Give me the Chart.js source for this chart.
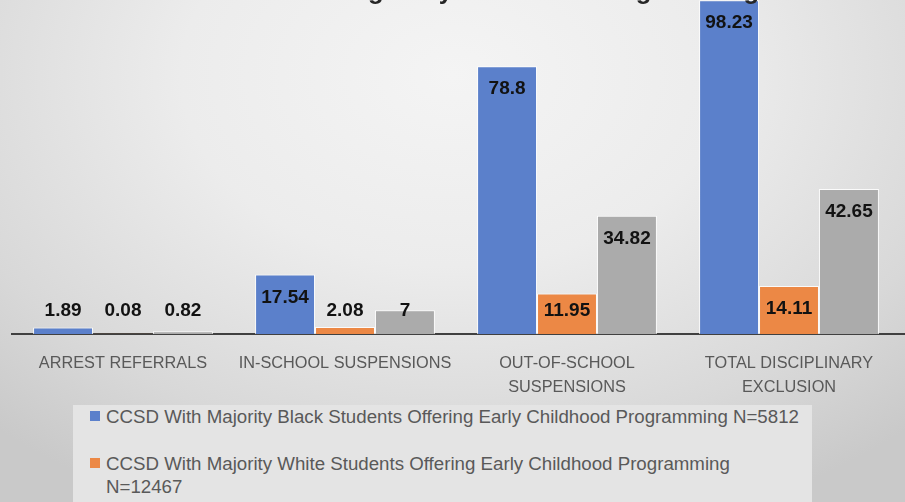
<!DOCTYPE html>
<html>
<head>
<meta charset="utf-8">
<script src="https://cdn.jsdelivr.net/npm/chart.js@4/dist/chart.umd.min.js"></script>
<style>
  html, body { margin: 0; padding: 0; overflow: hidden; }
  #frame {
    position: relative; width: 905px; height: 502px; overflow: hidden;
    background: radial-gradient(ellipse 75% 95% at 50% 15%, #f4f4f4 0%, #ececec 40%, #d8d8d8 78%, #c9c9c9 100%);
  }
  #chart { position: absolute; left: 0; top: 0; }
  #legend {
    position: absolute; left: 73px; top: 405px; width: 739px; height: 140px;
    background: #e4e4e4;
    font-family: "Liberation Sans", Arial, sans-serif; font-size: 18.7px; color: #595959;
  }
  .item { position: relative; padding-left: 33px; line-height: 23px; margin-bottom: 24px; }
  .item span { display: inline-block; }
  .swatch { position: absolute; left: 17px; top: 6px; width: 10px; height: 10px; }
</style>
</head>
<body>
<div id="frame">
  <canvas id="chart" width="905" height="400"></canvas>
  <div id="legend"></div>
</div>
<script>
// Categories (multi-line axis labels)
const categories = [
  ['ARREST REFERRALS'],
  ['IN-SCHOOL SUSPENSIONS'],
  ['OUT-OF-SCHOOL', 'SUSPENSIONS'],
  ['TOTAL DISCIPLINARY', 'EXCLUSION']
];

// Series names
const seriesNames = [
  'CCSD With Majority Black Students Offering Early Childhood Programming N=5812',
  'CCSD With Majority White Students Offering Early Childhood Programming N=12467',
  'CCSD All Schools Offering Early Childhood Programming'
];

// Rates per series
const blackMajority = [1.89, 17.54, 78.8, 98.23];
const whiteMajority = [0.08, 2.08, 11.95, 14.11];
const allSchools   = [0.82, 7, 34.82, 42.65];

const seriesColors = ['#5b80cb', '#ec8845', '#ababab'];
const titleText = 'CCSD Schools Offering Early Childhood Programming';

const FONT = '"Liberation Sans", Arial, sans-serif';

// Value labels: inside the top of each bar, kept above the baseline for short bars
const valueLabels = {
  id: 'valueLabels',
  afterDatasetsDraw(chart) {
    const ctx = chart.ctx;
    ctx.save();
    ctx.font = 'bold 19px ' + FONT;
    ctx.fillStyle = '#121212';
    ctx.textAlign = 'center';
    ctx.textBaseline = 'middle';
    chart.data.datasets.forEach((ds, i) => {
      chart.getDatasetMeta(i).data.forEach((bar, j) => {
        const y = Math.min(bar.y + 23, bar.base - 23);
        ctx.fillText(String(ds.data[j]), bar.x, y);
      });
    });
    ctx.restore();
  }
};

// Baseline runs on to the right edge of the canvas
const baselineExtension = {
  id: 'baselineExtension',
  afterDraw(chart) {
    const ctx = chart.ctx;
    const y = chart.scales.x.top;
    ctx.save();
    ctx.strokeStyle = '#404040';
    ctx.lineWidth = 2;
    ctx.beginPath();
    ctx.moveTo(chart.chartArea.right - 1, y);
    ctx.lineTo(chart.width, y);
    ctx.stroke();
    ctx.restore();
  }
};

// Heading sits at the very top edge of the canvas
const heading = {
  id: 'heading',
  afterDraw(chart) {
    const ctx = chart.ctx;
    ctx.save();
    ctx.font = 'bold 25.5px ' + FONT;
    ctx.fillStyle = '#262626';
    ctx.textAlign = 'right';
    ctx.textBaseline = 'alphabetic';
    ctx.fillText(titleText, 759, -1);
    ctx.restore();
  }
};

const chart = new Chart(document.getElementById('chart'), {
  type: 'bar',
  data: {
    labels: categories,
    datasets: [blackMajority, whiteMajority, allSchools].map((values, i) => ({
      label: seriesNames[i],
      data: values,
      backgroundColor: seriesColors[i],
      borderColor: 'rgba(255,255,255,0.85)',
      borderWidth: 1,
      barPercentage: 1,
      categoryPercentage: 0.81
    }))
  },
  options: {
    responsive: false,
    animation: false,
    layout: { padding: { left: 12, right: 5, top: 0, bottom: 0 } },
    plugins: {
      legend: { display: false },
      title: { display: false },
      tooltip: { enabled: false }
    },
    scales: {
      y: { display: false, min: 0, max: 98.3 },
      x: {
        grid: { display: false, drawTicks: false },
        border: { display: true, color: '#404040', width: 2 },
        ticks: {
          color: '#595959',
          font: { family: FONT, size: 16.3, lineHeight: 1.5 },
          padding: 17,
          maxRotation: 0,
          autoSkip: false
        },
        afterFit(scale) { scale.height = 66; }
      }
    }
  },
  plugins: [valueLabels, baselineExtension, heading]
});

// Legend built from the chart's datasets
const legendEl = document.getElementById('legend');
chart.data.datasets.forEach(ds => {
  const item = document.createElement('div');
  item.className = 'item';
  const sw = document.createElement('div');
  sw.className = 'swatch';
  sw.style.background = ds.backgroundColor;
  const txt = document.createElement('span');
  txt.textContent = ds.label;
  item.appendChild(sw);
  item.appendChild(txt);
  legendEl.appendChild(item);
});
// Text column is as wide as the first entry; longer entries wrap
const spans = legendEl.querySelectorAll('.item span');
spans.forEach(s => { s.style.whiteSpace = 'nowrap'; });
const w = Math.ceil(spans[0].getBoundingClientRect().width) + 2;
spans.forEach(s => { s.style.whiteSpace = 'normal'; s.style.width = w + 'px'; });
</script>
</body>
</html>
